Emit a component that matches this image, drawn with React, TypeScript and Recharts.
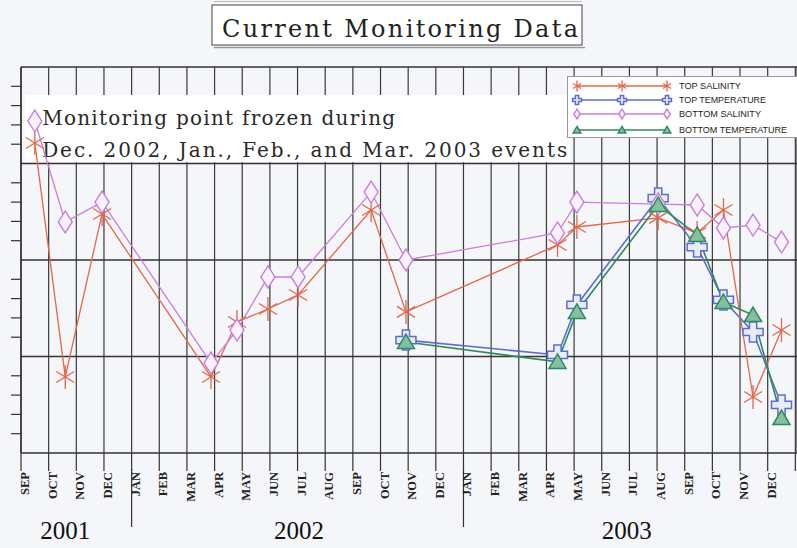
import React from 'react';
import { LineChart, Line, XAxis, YAxis, CartesianGrid, ReferenceLine, ReferenceArea, Legend } from 'recharts';

// ---------- data ----------
const MONTH_LABELS = ['SEP', 'OCT', 'NOV', 'DEC', 'JAN', 'FEB', 'MAR', 'APR', 'MAY', 'JUN', 'JUL', 'AUG', 'SEP', 'OCT', 'NOV', 'DEC', 'JAN', 'FEB', 'MAR', 'APR', 'MAY', 'JUN', 'JUL', 'AUG', 'SEP', 'OCT', 'NOV', 'DEC', ''];
const MONTH_TICKS = MONTH_LABELS.map((_, i) => i);
const YEAR_LABELS = ['2001', '2002', '2003'];
const YEAR_LABEL_POS = [1.6, 10.05, 21.9];
const YEAR_BREAKS = [4, 16];
const Y_MAJOR = [5, 10, 15, 20];
const Y_MINOR = [1, 2, 3, 4, 6, 7, 8, 9, 11, 12, 13, 14, 16, 17, 18, 19];

const topSalinityMonths = [0.5, 1.6, 2.93, 6.87, 7.81, 8.93, 10.02, 12.66, 13.92, 19.4, 20.1, 23.04, 24.45, 25.4, 26.47, 27.5];
const topSalinityValues = [16.06, 3.94, 12.38, 3.94, 6.79, 7.46, 8.19, 12.59, 7.31, 10.78, 11.71, 12.18, 11.4, 12.59, 2.9, 6.37];

const bottomSalinityMonths = [0.5, 1.6, 2.93, 6.87, 7.81, 8.93, 10.02, 12.66, 13.92, 19.4, 20.1, 23.04, 24.45, 25.4, 26.47, 27.5];
const bottomSalinityValues = [17.2, 11.97, 13.0, 4.66, 6.37, 9.12, 9.12, 13.52, 10.0, 11.4, 13.0, 12.9, 12.85, 11.66, 11.81, 10.93];

const topTemperatureMonths = [13.92, 19.4, 20.1, 23.04, 24.45, 25.4, 26.47, 27.5];
const topTemperatureValues = [5.85, 5.08, 7.67, 13.21, 10.67, 7.93, 6.27, 2.49];

const bottomTemperatureMonths = [13.92, 19.4, 20.1, 23.04, 24.45, 25.4, 26.47, 27.5];
const bottomTemperatureValues = [5.75, 4.72, 7.31, 12.85, 11.3, 7.82, 7.15, 1.81];

const ANNOTATION_LINES = ['Monitoring point frozen during', 'Dec. 2002, Jan., Feb., and Mar. 2003 events'];
const TITLE = 'Current Monitoring Data';

const zip = (ms: number[], vs: number[]) => ms.map((m, i) => ({ m, v: vs[i] }));

// ---------- markers ----------
const COLORS = {
  topSal: '#e5664a',
  topTemp: '#5b6dd4',
  botSal: '#c97fdb',
  botTemp: '#2f8a5e',
};

const Asterisk = ({ cx, cy, color, s = 1 }: any) => (
  <g stroke={color} strokeWidth={1.3} fill="none">
    <line x1={cx} y1={cy - 12 * s} x2={cx} y2={cy + 12 * s} />
    <line x1={cx - 9 * s} y1={cy - 5.5 * s} x2={cx + 9 * s} y2={cy + 5.5 * s} />
    <line x1={cx - 9 * s} y1={cy + 5.5 * s} x2={cx + 9 * s} y2={cy - 5.5 * s} />
  </g>
);

const Diamond = ({ cx, cy, color, s = 1 }: any) => (
  <polygon
    points={`${cx},${cy - 11 * s} ${cx + 7 * s},${cy} ${cx},${cy + 11 * s} ${cx - 7 * s},${cy}`}
    stroke={color}
    strokeWidth={1.4}
    fill="#f7f2fb"
  />
);

const Cross = ({ cx, cy, color, s = 1 }: any) => {
  const a = 3.6 * s;
  const L = 10 * s;
  const d = `M ${cx - a} ${cy - L} H ${cx + a} V ${cy - a} H ${cx + L} V ${cy + a} H ${cx + a} V ${cy + L} H ${cx - a} V ${cy + a} H ${cx - L} V ${cy - a} H ${cx - a} Z`;
  return <path d={d} stroke={color} strokeWidth={1.5} fill="#e9ecfa" />;
};

const Triangle = ({ cx, cy, color, s = 1 }: any) => (
  <polygon
    points={`${cx},${cy - 8 * s} ${cx + 8.5 * s},${cy + 6.5 * s} ${cx - 8.5 * s},${cy + 6.5 * s}`}
    stroke={color}
    strokeWidth={1.5}
    fill="#86bfa0"
  />
);

const SERIES = [
  { name: 'TOP SALINITY', color: COLORS.topSal, Marker: Asterisk, data: zip(topSalinityMonths, topSalinityValues), width: 1.3 },
  { name: 'TOP TEMPERATURE', color: COLORS.topTemp, Marker: Cross, data: zip(topTemperatureMonths, topTemperatureValues), width: 1.6 },
  { name: 'BOTTOM SALINITY', color: COLORS.botSal, Marker: Diamond, data: zip(bottomSalinityMonths, bottomSalinityValues), width: 1.3 },
  { name: 'BOTTOM TEMPERATURE', color: COLORS.botTemp, Marker: Triangle, data: zip(bottomTemperatureMonths, bottomTemperatureValues), width: 1.6 },
];

// ---------- axis ticks ----------
const MonthTick = (props: any) => {
  const { x, y, payload } = props;
  const label = MONTH_LABELS[payload.value] ?? '';
  const tx = x + 8;
  const ty = y + 1;
  return (
    <g>
      {YEAR_BREAKS.includes(payload.value) && <line x1={x} x2={x} y1={y - 2} y2={y + 56} stroke="#333" strokeWidth={1.2} />}
      <text
        x={tx}
        y={ty}
        transform={`rotate(-90 ${tx} ${ty})`}
        textAnchor="end"
        fontFamily="'Liberation Serif', serif"
        fontWeight="bold"
        fontSize={12.5}
        fill="#222"
      >
        {label}
      </text>
    </g>
  );
};

const EmptyTick = () => <g />;

const YearLabel = (props: any) => {
  const vb = props.viewBox || {};
  return (
    <text x={vb.x} y={vb.y + vb.height + 86} textAnchor="middle" fontFamily="'Liberation Serif', serif" fontSize={25} fill="#111">
      {props.text}
    </text>
  );
};

// ---------- legend ----------
const LEGEND_TEXT_LEN = [62, 87, 82, 108];
const LegendContent = (props: any) => {
  const payload = [...(props.payload || [])].sort(
    (a: any, b: any) => SERIES.findIndex((q) => q.name === a.value) - SERIES.findIndex((q) => q.name === b.value)
  );
  const rows = [9, 23, 37, 53];
  return (
    <svg width={232} height={62} style={{ display: 'block' }}>
      {payload.map((entry: any, i: number) => {
        const s = SERIES.find((q) => q.name === entry.value) || SERIES[i];
        const yy = rows[i];
        const M = s.Marker;
        return (
          <g key={entry.value}>
            <line x1={8} x2={100} y1={yy} y2={yy} stroke={entry.color} strokeWidth={1.5} />
            <M cx={9} cy={yy} color={entry.color} s={0.45} />
            <M cx={54} cy={yy} color={entry.color} s={0.45} />
            <M cx={99} cy={yy} color={entry.color} s={0.45} />
            <text x={111} y={yy + 3} fontFamily="'Liberation Sans', Arial, sans-serif" fontSize={8.5} fill="#222" textLength={LEGEND_TEXT_LEN[i]} lengthAdjust="spacingAndGlyphs">
              {entry.value}
            </text>
          </g>
        );
      })}
    </svg>
  );
};

// ---------- annotation ----------
const AnnotationText = (props: any) => {
  const vb = props.viewBox || {};
  const x = vb.x + 17;
  const y = vb.y;
  return (
    <g>
      <text x={x} y={y + 30} fontFamily="'DejaVu Serif', serif" fontSize={20} fill="#2a2a2a" textLength={353} lengthAdjust="spacing">
        {ANNOTATION_LINES[0]}
      </text>
      <text x={x} y={y + 62} fontFamily="'DejaVu Serif', serif" fontSize={20} fill="#2a2a2a" textLength={525} lengthAdjust="spacing">
        {ANNOTATION_LINES[1]}
      </text>
    </g>
  );
};

export default function App() {
  return (
    <div style={{ position: 'absolute', left: 0, top: 0, width: 797, height: 548, background: '#f4f6f9', overflow: 'hidden' }}>
      <LineChart width={797} height={548} margin={{ top: 67, right: 0, bottom: 0, left: 0 }}>
        <CartesianGrid horizontal={false} vertical stroke="#3a3a3a" strokeWidth={1.2} />
        {Y_MAJOR.map((v) => (
          <ReferenceLine key={v} y={v} stroke="#333" strokeWidth={1.3} />
        ))}
        {YEAR_LABEL_POS.map((p, i) => (
          <ReferenceLine key={`yr-${i}`} x={p} stroke="none" label={<YearLabel text={YEAR_LABELS[i]} />} />
        ))}
        <ReferenceArea x1={0.15} x2={19.85} y1={15.06} y2={18.55} fill="#ffffff" fillOpacity={1} stroke="none" label={<AnnotationText />} />
        <XAxis
          dataKey="m"
          type="number"
          domain={[0, 28.06]}
          allowDataOverflow
          ticks={MONTH_TICKS}
          interval={0}
          tickSize={18}
          tickMargin={0}
          height={95}
          axisLine={{ stroke: '#333', strokeWidth: 1.5 }}
          tickLine={{ stroke: '#333', strokeWidth: 1.2 }}
          tick={<MonthTick />}
        />
        <YAxis
          type="number"
          domain={[0, 20]}
          ticks={Y_MINOR}
          interval={0}
          width={21}
          tickSize={10}
          tick={<EmptyTick />}
          axisLine={{ stroke: '#333', strokeWidth: 1.5 }}
          tickLine={{ stroke: '#333', strokeWidth: 1.2 }}
        />
        {SERIES.map((s) => (
          <Line
            key={s.name}
            name={s.name}
            data={s.data}
            dataKey="v"
            type="linear"
            stroke={s.color}
            strokeWidth={s.width}
            isAnimationActive={false}
            activeDot={false}
            dot={(p: any) => <s.Marker key={`${s.name}-${p.index}`} cx={p.cx} cy={p.cy} color={s.color} />}
          />
        ))}
        <Legend
          layout="vertical"
          align="center"
          verticalAlign="middle"
          content={<LegendContent />}
          wrapperStyle={{ position: 'absolute', left: 567, top: 76, width: 232, height: 62, background: '#ffffff', border: '1px solid #999', borderRight: 'none', boxSizing: 'border-box' }}
        />
      </LineChart>
      <svg width={797} height={60} style={{ position: 'absolute', left: 0, top: 0, pointerEvents: 'none' }}>
        <line x1={214} x2={582} y1={1.5} y2={1.5} stroke="#bbb" strokeWidth={1} />
        <rect x={212} y={5} width={370} height={40} fill="#ffffff" stroke="#444" strokeWidth={1} />
        <line x1={214} x2={585} y1={47.5} y2={47.5} stroke="#999" strokeWidth={1.5} />
        <text x={222} y={37} fontFamily="'DejaVu Serif', serif" fontSize={24} fill="#222" textLength={356} lengthAdjust="spacing">
          {TITLE}
        </text>
      </svg>
    </div>
  );
}
